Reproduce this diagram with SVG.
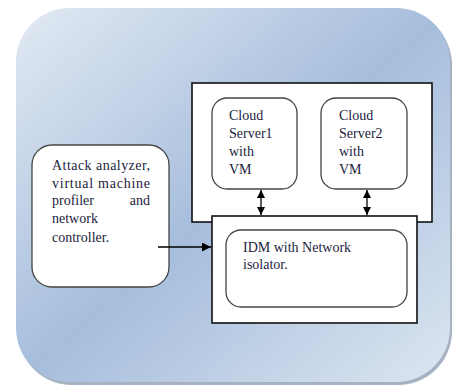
<svg xmlns="http://www.w3.org/2000/svg" width="454" height="386" viewBox="0 0 454 386">
<defs>
<linearGradient id="bg" x1="0" y1="0" x2="1" y2="1">
<stop offset="0" stop-color="#e2eaf3"/>
<stop offset="0.5" stop-color="#a6bddc"/>
<stop offset="1" stop-color="#dce6f1"/>
</linearGradient>
<marker id="ah" viewBox="0 0 10 10" refX="10" refY="5" markerWidth="8" markerHeight="8" markerUnits="userSpaceOnUse" orient="auto-start-reverse">
<path d="M0,0 L10,5 L0,10 z" fill="#000"/>
</marker>
<marker id="ah2" viewBox="0 0 10 10" refX="10" refY="5" markerWidth="9" markerHeight="9" markerUnits="userSpaceOnUse" orient="auto">
<path d="M0,0 L10,5 L0,10 z" fill="#000"/>
</marker>
</defs>
<style>
.t{font-family:"Liberation Serif","Times New Roman",serif;font-size:14px;fill:#1c1c3c}
.box{fill:#fff;stroke:#111;stroke-width:1.6}
.rbox{fill:#fff;stroke:#444;stroke-width:1.3}
.ln{stroke:#000;stroke-width:1.3;fill:none}
</style>
<g id="background">
<rect x="18" y="11" width="434" height="374" rx="54" fill="#6a7f99" opacity="0.6"/>
<rect x="16" y="8" width="434" height="374" rx="54" fill="url(#bg)"/>
</g>
<g id="cloud-container">
<rect class="box" x="192" y="83" width="240" height="139"/>
</g>
<g id="cloud-server1">
<rect class="rbox" x="212" y="98" width="85" height="91" rx="15"/>
<text class="t" x="229" y="120">Cloud</text>
<text class="t" x="229" y="138">Server1</text>
<text class="t" x="229" y="156">with</text>
<text class="t" x="229" y="174">VM</text>
</g>
<g id="cloud-server2">
<rect class="rbox" x="321" y="98" width="86" height="91" rx="15"/>
<text class="t" x="339" y="120">Cloud</text>
<text class="t" x="339" y="138">Server2</text>
<text class="t" x="339" y="156">with</text>
<text class="t" x="339" y="174">VM</text>
</g>
<g id="idm-container">
<rect class="box" x="212" y="216" width="205" height="107"/>
</g>
<g id="idm">
<rect class="rbox" x="226" y="230" width="181" height="77" rx="15"/>
<text class="t" x="243" y="252">IDM with Network</text>
<text class="t" x="243" y="269">isolator.</text>
</g>
<g id="attack-analyzer">
<rect class="rbox" x="32" y="145" width="137" height="142" rx="20"/>
<text class="t" x="52" y="170" textLength="98" lengthAdjust="spacing">Attack analyzer,</text>
<text class="t" x="52" y="188" textLength="98" lengthAdjust="spacing">virtual machine</text>
<text class="t" x="52" y="205">profiler</text>
<text class="t" x="150" y="205" text-anchor="end">and</text>
<text class="t" x="52" y="223">network</text>
<text class="t" x="52" y="242">controller.</text>
</g>
<g id="connectors">
<line class="ln" x1="158" y1="247" x2="211" y2="247" marker-end="url(#ah2)"/>
<line class="ln" x1="261" y1="190" x2="261" y2="215" marker-start="url(#ah)" marker-end="url(#ah)"/>
<line class="ln" x1="367" y1="190" x2="367" y2="215" marker-start="url(#ah)" marker-end="url(#ah)"/>
</g>
</svg>
